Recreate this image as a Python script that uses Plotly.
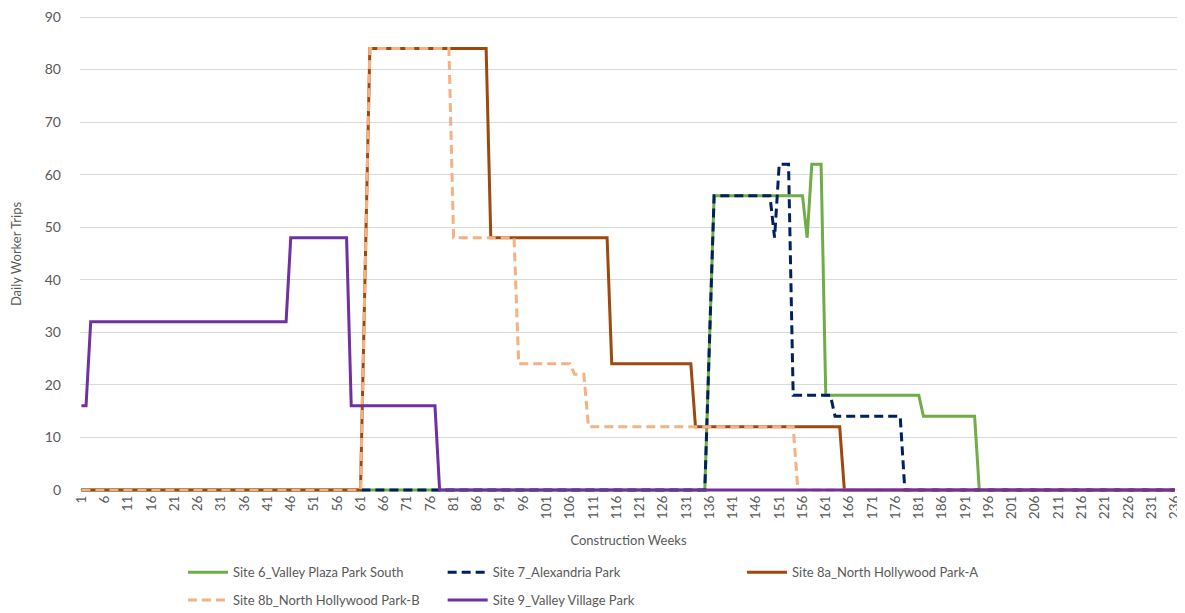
import plotly.graph_objects as go

# ---- data ----
weeks = list(range(1, 237))
tick_weeks = list(range(1, 237, 5))
tick_labels = [str(w) for w in tick_weeks]

# (first week, last week, daily worker trips)
site6_runs = [(1, 135, 0), (136, 136, 28), (137, 156, 56), (157, 157, 48), (158, 160, 62),
              (161, 181, 18), (182, 193, 14), (194, 236, 0)]
site7_runs = [(1, 135, 0), (136, 136, 28), (137, 149, 56), (150, 150, 48), (151, 153, 62),
              (154, 162, 18), (163, 177, 14), (178, 236, 0)]
site8a_runs = [(1, 61, 0), (62, 62, 42), (63, 88, 84), (89, 114, 48), (115, 132, 24),
               (133, 164, 12), (165, 236, 0)]
site8b_runs = [(1, 61, 0), (62, 62, 42), (63, 80, 84), (81, 94, 48), (95, 106, 24),
               (107, 109, 22), (110, 154, 12), (155, 236, 0)]
site9_runs = [(1, 2, 16), (3, 45, 32), (46, 58, 48), (59, 77, 16), (78, 236, 0)]

series_names = ["Site 6_Valley Plaza Park South", "Site 7_Alexandria Park",
                "Site 8a_North Hollywood Park-A", "Site 8b_North Hollywood Park-B",
                "Site 9_Valley Village Park"]


def expand(runs):
    vals = []
    for a, b, v in runs:
        vals.extend([v] * (b - a + 1))
    return vals


site6 = expand(site6_runs)
site7 = expand(site7_runs)
site8a = expand(site8a_runs)
site8b = expand(site8b_runs)
site9 = expand(site9_runs)

colors = ["#70AD47", "#002060", "#9E480E", "#F4B183", "#7030A0"]
dashes = ["solid", "9px,5px", "solid", "9px,5px", "solid"]
legends = ["legend", "legend2", "legend3", "legend", "legend2"]
all_series = [site6, site7, site8a, site8b, site9]

FONT = "Lato, 'Open Sans', sans-serif"
TXT = "#595959"

fig = go.Figure()
for name, ys, c, d, lg in zip(series_names, all_series, colors, dashes, legends):
    fig.add_trace(go.Scatter(
        x=weeks, y=ys, mode="lines", name=name,
        line=dict(color=c, width=3, dash=d),
        legend=lg, legendgroup=name,
    ))

leg_common = dict(orientation="v", yanchor="top", y=-0.137, xanchor="left",
                  font=dict(family=FONT, size=13, color=TXT),
                  bgcolor="rgba(0,0,0,0)", tracegroupgap=8, itemwidth=40)

fig.update_layout(
    width=1177, height=605,
    margin=dict(l=72, r=8, t=8, b=121, autoexpand=False),
    plot_bgcolor="white", paper_bgcolor="white",
    font=dict(family=FONT, size=13, color=TXT),
    showlegend=True,
    legend=dict(x=0.0939, **leg_common),
    legend2=dict(x=0.3306, **leg_common),
    legend3=dict(x=0.6035, **leg_common),
    xaxis=dict(
        range=[0.7, 236.5],
        tickmode="array", tickvals=tick_weeks, ticktext=tick_labels,
        tickangle=-90, tickfont=dict(family=FONT, size=13.5, color=TXT),
        ticklabeloverflow="allow",
        showgrid=False, zeroline=False, showline=False, ticks="",
        title=dict(text="Construction Weeks", font=dict(family=FONT, size=13, color=TXT), standoff=17),
    ),
    yaxis=dict(
        range=[-0.4, 90.2],
        tickmode="array", tickvals=list(range(0, 91, 10)),
        tickfont=dict(family=FONT, size=14, color=TXT),
        ticklabeloverflow="allow",
        showgrid=True, gridcolor="#D9D9D9", gridwidth=1,
        zeroline=False, showline=False, ticks="", ticklabelstandoff=18,
        title=dict(text="Daily Worker Trips", font=dict(family=FONT, size=13, color=TXT), standoff=30),
    ),
)

fig.write_html("out.html")
